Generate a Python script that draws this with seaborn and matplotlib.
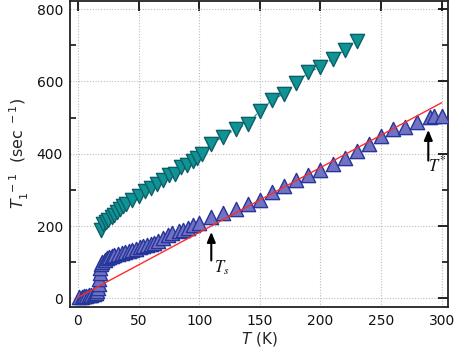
import numpy as np
import pandas as pd
import matplotlib
matplotlib.use("Agg")
import matplotlib.pyplot as plt
from matplotlib.ticker import NullLocator
import seaborn as sns

# ---- data ----
T_teal = [19, 21, 23, 25, 28, 30, 32, 35, 37, 40, 45, 50, 55, 60, 65, 70, 75, 80,
          85, 90, 95, 98, 102, 110, 120, 130, 140, 150, 160, 170, 180, 190, 200,
          210, 220, 230]
rate_teal = [190, 205, 212, 218, 225, 232, 240, 248, 256, 262, 272, 284, 296, 306,
             315, 327, 342, 345, 362, 368, 380, 388, 400, 428, 447, 468, 482, 519,
             548, 566, 595, 625, 640, 662, 687, 711]

T_blue = [1, 3, 5, 7, 9, 11, 13, 14.5, 15.5, 16.5, 17, 17.5, 18, 18.5, 19, 20, 22,
          24, 26, 28, 30, 33, 36, 39, 42, 45, 48, 51, 54, 57, 60, 63, 66, 70, 74,
          78, 83, 87, 91, 95, 100, 110, 120, 130, 140, 150, 160, 170, 180, 190,
          200, 210, 220, 230, 240, 250, 260, 270, 280, 290, 294, 300]
rate_blue = [3, 4, 6, 7, 9, 10, 12, 15, 20, 28, 40, 55, 70, 85, 95, 102, 107, 111,
             114, 116, 119, 122, 126, 128, 132, 135, 138, 141, 144, 147, 150, 154,
             159, 168, 175, 180, 186, 190, 196, 202, 209, 225, 237, 248, 260, 271,
             295, 310, 327, 340, 354, 372, 389, 407, 426, 449, 469, 473, 489, 501,
             503, 503]

T_fit = [0, 300]
rate_fit = [3, 541]

x_ticks = [0, 50, 100, 150, 200, 250, 300]
y_ticks = [0, 200, 400, 600, 800]
y_minor = [100, 300, 500, 700]

arrow_Ts = (110, 105, 184)      # T, tail, head
arrow_Tstar = (289, 381, 466)

# ---- style ----
sns.set_style("white")
plt.rcParams["font.family"] = ["DejaVu Sans"]

fig = plt.figure(figsize=(4.57, 3.51), dpi=100)
ax = fig.add_axes([0.153, 0.126, 0.828, 0.872])

teal_df = pd.DataFrame({"T": T_teal, "rate": rate_teal})
blue_df = pd.DataFrame({"T": T_blue, "rate": rate_blue})
fit_df = pd.DataFrame({"T": T_fit, "rate": rate_fit})

sns.lineplot(data=teal_df, x="T", y="rate", ax=ax, color="#1a9a9a", lw=0.9,
             linestyle=(0, (3, 2)), sort=False, zorder=2)
sns.scatterplot(data=teal_df, x="T", y="rate", ax=ax, marker="v", s=105,
                color="#0f9393", edgecolor="#0c5e6a", linewidth=1.0, zorder=3)
sns.scatterplot(data=blue_df, x="T", y="rate", ax=ax, marker="^", s=105,
                color="#7272c2", edgecolor="#25359a", linewidth=1.0, zorder=3)
sns.lineplot(data=fit_df, x="T", y="rate", ax=ax, color="#ff2a2a", lw=1.0,
             sort=False, zorder=4)

ax.set_xlim(-6.6, 305.5)
ax.set_ylim(-23, 823)
ax.set_xticks(x_ticks)
ax.xaxis.set_minor_locator(NullLocator())
ax.set_yticks(y_ticks)
ax.set_yticks(y_minor, minor=True)
ax.tick_params(which="major", direction="in", length=7, width=1.3,
               top=True, right=True, labelsize=10, colors="#111111", pad=5)
ax.tick_params(which="minor", direction="in", length=4, width=1.3,
               left=True, right=True)
for sp in ax.spines.values():
    sp.set_linewidth(1.3)
    sp.set_color("#222222")
ax.grid(True, which="major", color="#bbbbbb", linestyle=(0, (1, 1.5)), lw=0.8)
ax.set_axisbelow(True)

ax.set_xlabel(r"$T$ (K)", fontsize=11, labelpad=2, math_fontfamily="dejavusans")
ax.set_ylabel(r"$T_1^{\ -1}$  (sec$^{\ -1}$)", fontsize=11.5, labelpad=4,
              math_fontfamily="dejavusans")

for (xa, y0, y1), lbl, dx, ly in [(arrow_Ts, r"$T_s$", 2, 85),
                                  (arrow_Tstar, r"$T^{*}$", 0, 368)]:
    ax.annotate("", xy=(xa, y1), xytext=(xa, y0),
                arrowprops=dict(arrowstyle="-|>,head_width=0.25,head_length=0.6",
                                color="black", lw=1.5, shrinkA=0, shrinkB=0),
                zorder=5)
    ax.text(xa + dx, ly, lbl, fontsize=12, ha="left", va="center",
            math_fontfamily="stix", color="#111111", zorder=6)

fig.savefig("out.png", dpi=100)
